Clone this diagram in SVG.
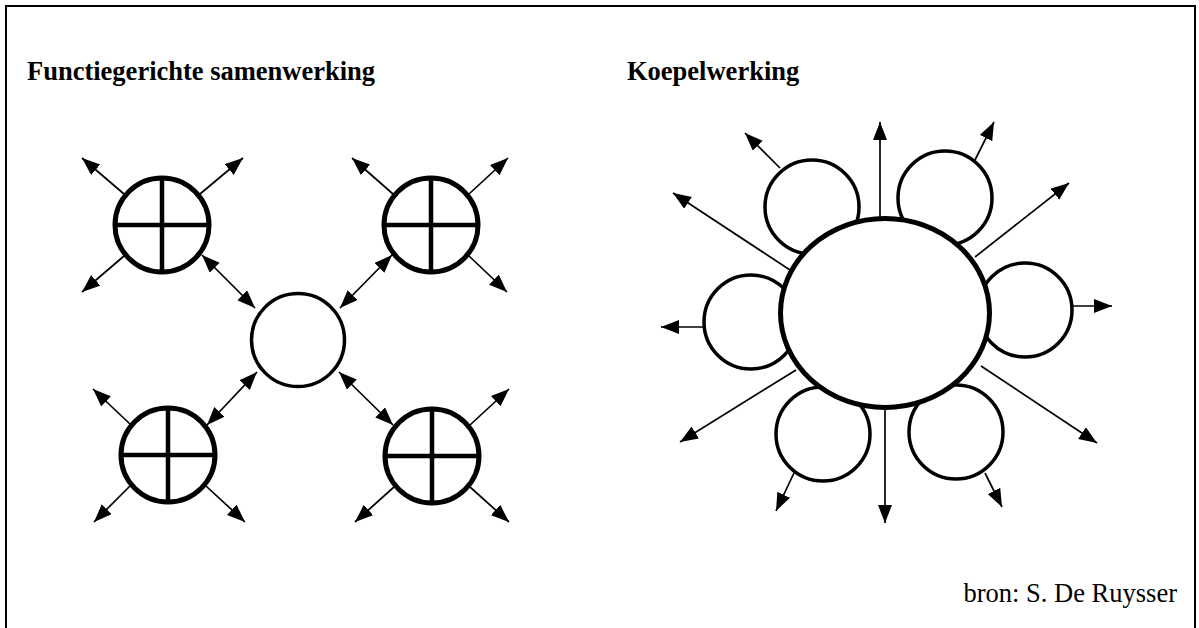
<svg xmlns="http://www.w3.org/2000/svg" width="1199" height="628" viewBox="0 0 1199 628">
<defs>
<marker id="ah" markerUnits="userSpaceOnUse" markerWidth="19" markerHeight="15" refX="18" refY="7" orient="auto-start-reverse" viewBox="0 0 19 15"><path d="M0,0 L18,7 L0,14 z" fill="#000"/></marker>
<style>
.t{font-family:"Liberation Serif","Times New Roman",serif;font-size:26.5px;fill:#000}
.b{font-weight:bold}
.c{stroke:#000;stroke-width:1.7;fill:none;marker-end:url(#ah)}
.d{stroke:#000;stroke-width:1.7;fill:none;marker-start:url(#ah);marker-end:url(#ah)}
.x{fill:#fff;stroke:#000;stroke-width:5}
.xl{stroke:#000;stroke-width:4.5}
.s{fill:#fff;stroke:#000;stroke-width:3.5}
</style>
</defs>
<rect width="1199" height="628" fill="#fff"/>
<path d="M6,628 V6 H1195 V628" fill="none" stroke="#000" stroke-width="2"/>
<text class="t b" x="27" y="80">Functiegerichte samenwerking</text>
<text class="t b" x="627" y="80">Koepelwerking</text>
<text class="t" x="1177" y="602" text-anchor="end">bron: S. De Ruysser</text>

<g id="connectors">
<path class="c" d="M124,194 L82,158"/>
<path class="c" d="M200,194 L243,158"/>
<path class="c" d="M124,256 L82,292"/>
<path class="d" d="M202,255 L255,308"/>
<path class="c" d="M393,194 L352,158"/>
<path class="c" d="M469,194 L508,158"/>
<path class="c" d="M469,256 L507,292"/>
<path class="d" d="M392,255 L340,308"/>
<path class="c" d="M130,424 L93,389"/>
<path class="c" d="M130,486 L94,522"/>
<path class="c" d="M206,486 L245,522"/>
<path class="d" d="M207,425 L257,372"/>
<path class="c" d="M470,425 L509,389"/>
<path class="c" d="M470,487 L509,522"/>
<path class="c" d="M394,487 L355,522"/>
<path class="d" d="M393,425 L339,372"/>

<path class="c" d="M880,220 L880,122"/>
<path class="c" d="M780,168 L745,133"/>
<path class="c" d="M975,160 L994,122"/>
<path class="c" d="M790,270 L673,193"/>
<path class="c" d="M975,257 L1069,183"/>
<path class="c" d="M1070,306 L1112,306"/>
<path class="c" d="M704,327 L661,327"/>
<path class="c" d="M796,370 L680,442"/>
<path class="c" d="M981,366 L1097,443"/>
<path class="c" d="M885,405 L885,523"/>
<path class="c" d="M794,473 L776,511"/>
<path class="c" d="M985,473 L1002,507"/>
</g>

<g id="f-tl"><circle class="x" cx="162" cy="225" r="47"/><path class="xl" d="M115,225 H209 M162,178 V272"/></g>
<g id="f-tr"><circle class="x" cx="431" cy="225" r="47"/><path class="xl" d="M384,225 H478 M431,178 V272"/></g>
<g id="f-bl"><circle class="x" cx="168" cy="455" r="47"/><path class="xl" d="M121,455 H215 M168,408 V502"/></g>
<g id="f-br"><circle class="x" cx="432" cy="456" r="47"/><path class="xl" d="M385,456 H479 M432,409 V503"/></g>
<g id="f-center"><circle class="s" cx="298" cy="340" r="46.5"/></g>

<g id="k-tl"><circle class="s" cx="812" cy="207" r="47"/></g>
<g id="k-tr"><circle class="s" cx="945" cy="198" r="47"/></g>
<g id="k-r"><circle class="s" cx="1025" cy="310" r="47"/></g>
<g id="k-l"><circle class="s" cx="751" cy="322" r="47"/></g>
<g id="k-bl"><circle class="s" cx="823" cy="434" r="47"/></g>
<g id="k-br"><circle class="s" cx="956" cy="432" r="47"/></g>
<g id="k-center"><ellipse cx="885" cy="313" rx="104.5" ry="94.5" fill="#fff" stroke="#000" stroke-width="5"/></g>
</svg>
